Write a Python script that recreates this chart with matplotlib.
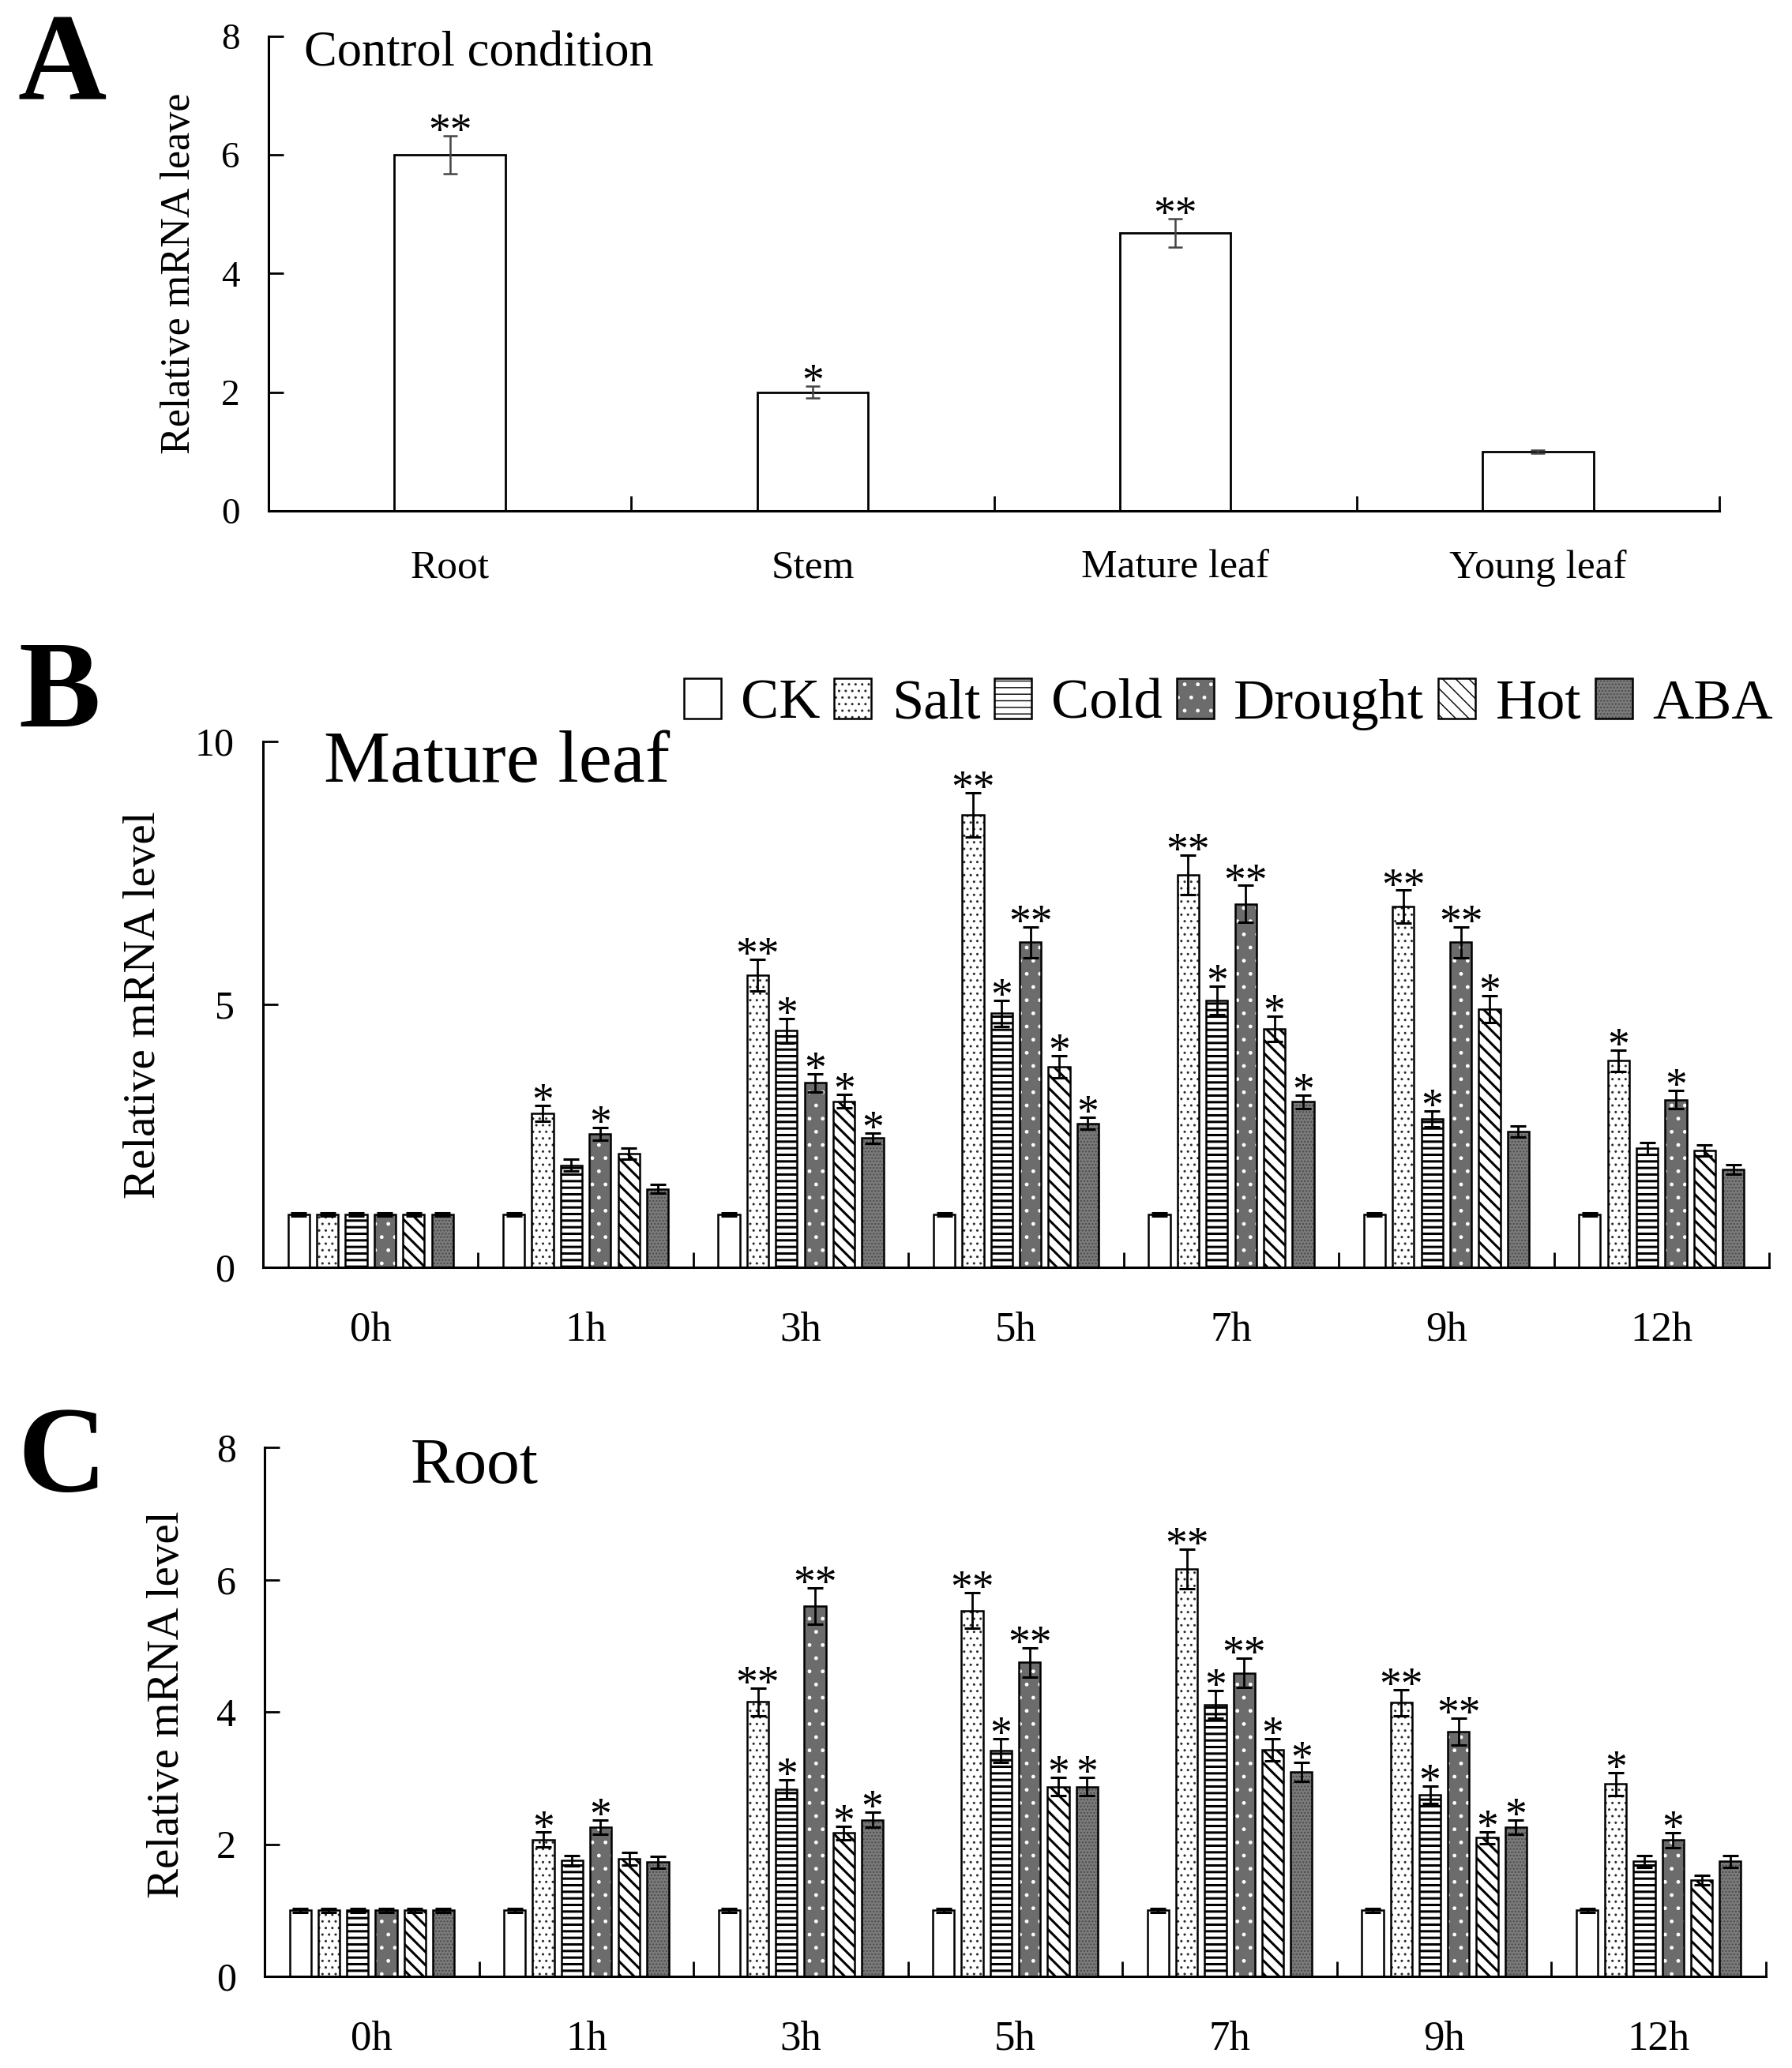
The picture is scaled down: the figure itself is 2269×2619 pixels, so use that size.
import numpy as np
import matplotlib
matplotlib.use("Agg")
import matplotlib.pyplot as plt
from matplotlib.patches import Rectangle
from matplotlib.legend_handler import HandlerTuple

plt.rcParams['font.family'] = ['Liberation Serif', 'DejaVu Serif']

# ---------------- data ----------------
tissues = ["Root", "Stem", "Mature leaf", "Young leaf"]
tissue_vals = [6.0, 2.0, 4.68, 1.0]
tissue_err = [0.32, 0.10, 0.24, 0.03]
tissue_sig = ["**", "*", "**", ""]

times = ["0h", "1h", "3h", "5h", "7h", "9h", "12h"]
treatments = ["CK", "Salt", "Cold", "Drought", "Hot", "ABA"]

leaf_ck = [1.0, 1.0, 1.0, 1.0, 1.0, 1.0, 1.0]
leaf_salt = [1.0, 2.93, 5.56, 8.61, 7.46, 6.86, 3.93]
leaf_cold = [1.0, 1.94, 4.50, 4.83, 5.07, 2.83, 2.26]
leaf_drought = [1.0, 2.54, 3.51, 6.18, 6.91, 6.18, 3.19]
leaf_hot = [1.0, 2.16, 3.16, 3.81, 4.53, 4.91, 2.22]
leaf_aba = [1.0, 1.49, 2.46, 2.74, 3.15, 2.58, 1.86]

leaf_ck_err = [0.03, 0.03, 0.03, 0.03, 0.03, 0.03, 0.03]
leaf_salt_err = [0.03, 0.15, 0.30, 0.42, 0.38, 0.31, 0.20]
leaf_cold_err = [0.03, 0.11, 0.23, 0.25, 0.27, 0.15, 0.11]
leaf_drought_err = [0.03, 0.12, 0.17, 0.29, 0.35, 0.29, 0.17]
leaf_hot_err = [0.03, 0.10, 0.13, 0.21, 0.24, 0.25, 0.11]
leaf_aba_err = [0.03, 0.08, 0.10, 0.11, 0.13, 0.11, 0.09]

leaf_ck_sig = ["", "", "", "", "", "", ""]
leaf_salt_sig = ["", "*", "**", "**", "**", "**", "*"]
leaf_cold_sig = ["", "", "*", "*", "*", "*", ""]
leaf_drought_sig = ["", "*", "*", "**", "**", "**", "*"]
leaf_hot_sig = ["", "", "*", "*", "*", "*", ""]
leaf_aba_sig = ["", "", "*", "*", "*", "", ""]

root_ck = [1.0, 1.0, 1.0, 1.0, 1.0, 1.0, 1.0]
root_salt = [1.0, 2.07, 4.15, 5.53, 6.16, 4.14, 2.91]
root_cold = [1.0, 1.75, 2.83, 3.42, 4.11, 2.75, 1.74]
root_drought = [1.0, 2.26, 5.60, 4.75, 4.59, 3.70, 2.06]
root_hot = [1.0, 1.78, 2.17, 2.87, 3.43, 2.10, 1.46]
root_aba = [1.0, 1.73, 2.37, 2.87, 3.09, 2.26, 1.74]

root_ck_err = [0.03, 0.03, 0.03, 0.03, 0.03, 0.03, 0.03]
root_salt_err = [0.03, 0.11, 0.21, 0.27, 0.30, 0.20, 0.17]
root_cold_err = [0.03, 0.08, 0.14, 0.18, 0.21, 0.13, 0.09]
root_drought_err = [0.03, 0.11, 0.28, 0.22, 0.22, 0.20, 0.11]
root_hot_err = [0.03, 0.10, 0.10, 0.14, 0.17, 0.09, 0.07]
root_aba_err = [0.03, 0.09, 0.11, 0.14, 0.14, 0.11, 0.09]

root_ck_sig = ["", "", "", "", "", "", ""]
root_salt_sig = ["", "*", "**", "**", "**", "**", "*"]
root_cold_sig = ["", "", "*", "*", "*", "*", ""]
root_drought_sig = ["", "*", "**", "**", "**", "**", "*"]
root_hot_sig = ["", "", "*", "*", "*", "*", ""]
root_aba_sig = ["", "", "*", "*", "*", "*", ""]

# ---------------- styles ----------------
# (facecolor, hatch colour, hatch, hatch linewidth)
styles = [
    ("white", "black", None, 1.0),
    ("white", "#2a2a2a", "..", 1.0),
    ("white", "black", "--", 2.2),
    ("#6c6c6c", "white", ".", 1.0),
    ("white", "black", "\\\\", 2.2),
    ("#7a7a7a", "#4a4a4a", "....", 1.0),
]

W, H = 2269, 2619
fig = plt.figure(figsize=(W / 100, H / 100), dpi=100)


def fx(px):
    return px / W


def fy(py):
    return 1 - py / H


def style_axes(ax, ytick_size):
    for s in ["top", "right"]:
        ax.spines[s].set_visible(False)
    for s in ["left", "bottom"]:
        ax.spines[s].set_linewidth(2.2)
    ax.tick_params(axis="y", direction="in", length=14, width=2.0,
                   labelsize=ytick_size, pad=26)
    ax.tick_params(axis="x", which="major", length=0)
    ax.tick_params(axis="x", which="minor", direction="in", length=14,
                   width=2.0)


def add_star(ax, x, ytop, txt, size=40):
    if txt:
        ax.annotate(txt, xy=(x, ytop), xytext=(0, -8),
                    textcoords="offset points", ha="center",
                    va="baseline", fontsize=size)


# ---------------- panel A ----------------
axA = fig.add_axes([fx(340), fy(647), fx(2177) - fx(340), fy(46) - fy(647)])
xa = np.arange(len(tissues))
axA.bar(xa, tissue_vals, 0.306, color="white", edgecolor="black",
        linewidth=2.0, zorder=2)
axA.errorbar(xa, tissue_vals, yerr=tissue_err, fmt="none", ecolor="#444444",
             elinewidth=1.8, capsize=6.5, capthick=1.8, zorder=3)
for xi, v, e, s in zip(xa, tissue_vals, tissue_err, tissue_sig):
    add_star(axA, xi, v + e, s, size=40)
axA.set_xlim(-0.5, 3.5)
axA.set_ylim(0, 8)
axA.set_yticks([0, 2, 4, 6, 8])
axA.set_xticks(xa)
axA.set_xticklabels(tissues, fontsize=37)
axA.set_xticks(np.arange(0.5, 4, 1), minor=True)
style_axes(axA, 34)
axA.tick_params(axis="x", which="major", pad=35)
fig.text(fx(385), fy(83), "Control condition", fontsize=45,
         ha="left", va="baseline")
fig.text(fx(227), fy(346), "Relative mRNA leave", rotation=90, fontsize=37.5,
         ha="center", va="center")
fig.text(fx(79), fy(88), "A", fontsize=112, fontweight="bold",
         ha="center", va="center")


# ---------------- grouped panels ----------------
def grouped(ax, series, errs, sigs, ylim, yticks, title, title_px, title_size):
    x = np.arange(len(times))
    pitch = 0.1336
    width = 0.1
    for i, (vals, err, sig) in enumerate(zip(series, errs, sigs)):
        fc, hc, h, hlw = styles[i]
        pos = x + (i - 2.5) * pitch
        with plt.rc_context({"hatch.linewidth": hlw}):
            ax.bar(pos, vals, width, color=fc, edgecolor=hc, hatch=h,
                   linewidth=0, zorder=2)
        ax.bar(pos, vals, width, fill=False, edgecolor="black",
               linewidth=1.8, zorder=3)
        ax.errorbar(pos, vals, yerr=err, fmt="none", ecolor="black",
                    elinewidth=2.0, capsize=7, capthick=2.2, zorder=4)
        for p, v, e, s in zip(pos, vals, err, sig):
            add_star(ax, p, v + e, s, size=40)
    ax.set_xlim(-0.5, len(times) - 0.5)
    ax.set_ylim(*ylim)
    ax.set_yticks(yticks)
    ax.set_xticks(x)
    ax.set_xticklabels(times, fontsize=38)
    ax.set_xticks(np.arange(0.5, len(times), 1), minor=True)
    style_axes(ax, 36)
    ax.tick_params(axis="x", which="major", pad=40)
    fig.text(fx(title_px[0]), fy(title_px[1]), title, fontsize=title_size,
             ha="left", va="baseline")


axB = fig.add_axes([fx(333), fy(1605), fx(2240) - fx(333), fy(939) - fy(1605)])
grouped(axB,
        [leaf_ck, leaf_salt, leaf_cold, leaf_drought, leaf_hot, leaf_aba],
        [leaf_ck_err, leaf_salt_err, leaf_cold_err, leaf_drought_err,
         leaf_hot_err, leaf_aba_err],
        [leaf_ck_sig, leaf_salt_sig, leaf_cold_sig, leaf_drought_sig,
         leaf_hot_sig, leaf_aba_sig],
        (0, 10), [0, 5, 10], "Mature leaf", (410, 990), 68)
fig.text(fx(182), fy(1273), "Relative mRNA level", rotation=90, fontsize=41,
         ha="center", va="center")
fig.text(fx(75), fy(882), "B", fontsize=112, fontweight="bold",
         ha="center", va="center")

axC = fig.add_axes([fx(335), fy(2503), fx(2236) - fx(335), fy(1833) - fy(2503)])
grouped(axC,
        [root_ck, root_salt, root_cold, root_drought, root_hot, root_aba],
        [root_ck_err, root_salt_err, root_cold_err, root_drought_err,
         root_hot_err, root_aba_err],
        [root_ck_sig, root_salt_sig, root_cold_sig, root_drought_sig,
         root_hot_sig, root_aba_sig],
        (0, 8), [0, 2, 4, 6, 8], "Root", (520, 1878), 60)
fig.text(fx(212), fy(2159), "Relative mRNA level", rotation=90, fontsize=41,
         ha="center", va="center")
fig.text(fx(79), fy(1850), "C", fontsize=112, fontweight="bold",
         ha="center", va="center")

# ---------------- legend ----------------
handles = []
for i, name in enumerate(treatments):
    fc, hc, h, hlw = styles[i]
    with plt.rc_context({"hatch.linewidth": hlw}):
        p1 = Rectangle((0, 0), 1, 1, facecolor=fc, edgecolor=hc, hatch=h,
                       linewidth=0)
    p2 = Rectangle((0, 0), 1, 1, fill=False, edgecolor="black", linewidth=1.8)
    handles.append((p1, p2))
fig.legend(handles, treatments, handler_map={tuple: HandlerTuple(ndivide=1, pad=0)},
           loc="center right", bbox_to_anchor=(fx(2245), fy(892)),
           ncol=6, frameon=False, fontsize=52, handlelength=0.65,
           handleheight=0.7, handletextpad=0.35, columnspacing=0.25,
           borderpad=0, borderaxespad=0)

fig.savefig("out.png", dpi=100)
